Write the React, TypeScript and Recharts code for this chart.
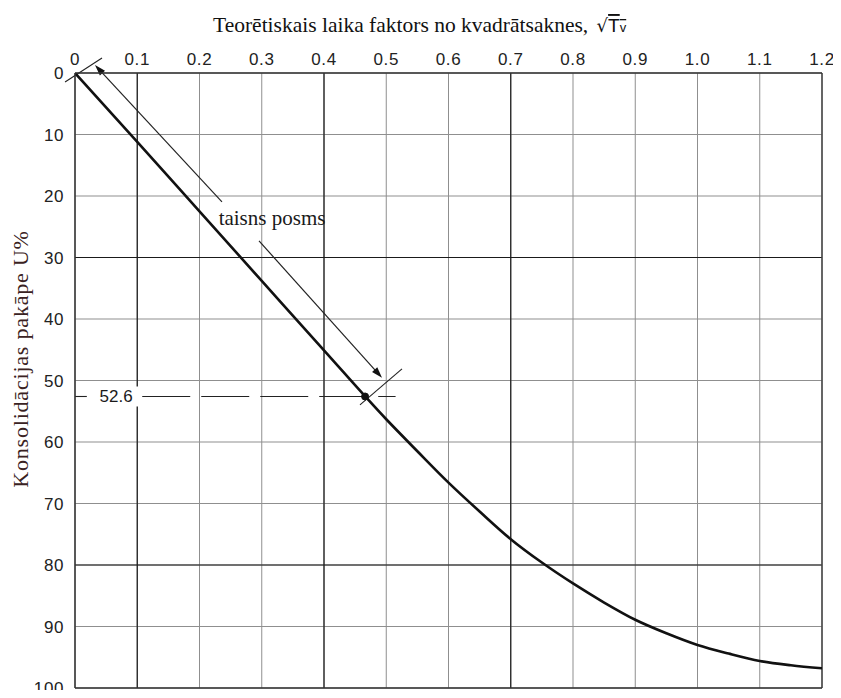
import React from "react";
import {
  ComposedChart,
  Line,
  XAxis,
  YAxis,
  CartesianGrid,
  ReferenceLine,
  ReferenceDot,
} from "recharts";

// ---- data ----
const sqrtTv = [0, 0.1, 0.2, 0.3, 0.4, 0.5, 0.55, 0.6, 0.65, 0.7, 0.75, 0.8, 0.85, 0.9, 0.95, 1.0, 1.05, 1.1, 1.15, 1.2];
const consolidationU = [0, 11.2, 22.5, 33.8, 45.1, 56.3, 61.5, 66.6, 71.3, 75.8, 79.6, 83.0, 86.1, 88.9, 91.1, 93.0, 94.4, 95.6, 96.3, 96.8];
const xTicks = [0, 0.1, 0.2, 0.3, 0.4, 0.5, 0.6, 0.7, 0.8, 0.9, 1.0, 1.1, 1.2];
const yTicks = [0, 10, 20, 30, 40, 50, 60, 70, 80, 90, 100];
const darkX = [0.1, 0.4, 0.7];
const darkY = [30, 80];
const markerX = 0.466;
const markerU = 52.6;
const markerLabel = "52.6";
const straightLabel = "taisns posms";
const titleText = "Teorētiskais laika faktors no kvadrātsaknes, ";
const yLabelText = "Konsolidācijas pakāpe U%";

// annotation geometry (data coordinates)
const startTick = [{ x: -0.016, y: 1.46 }, { x: 0.0434, y: -2.44 }];
const endTick = [{ x: 0.4578, y: 53.96 }, { x: 0.5253, y: 48.11 }];
const arrowUp = [{ x: 0.2361, y: 20.97 }, { x: 0.0321, y: -1.3 }];
const arrowDown = [{ x: 0.2956, y: 27.3 }, { x: 0.4932, y: 49.57 }];
const dashShort = [{ x: 0, y: markerU }, { x: 0.019, y: markerU }];
const dashLong = [{ x: 0.108, y: markerU }, { x: 0.515, y: markerU }];
const labelPos = { x: 0.066, y: markerU };
const straightLabelPos = { x: 0.3165, y: 23.6 };

const curveData = sqrtTv.map((x, i) => ({ x, u: consolidationU[i] }));

const SANS = "'Liberation Sans', Arial, sans-serif";
const SERIF = "'Liberation Serif', 'Times New Roman', serif";

const ArrowShape = (p: any) => {
  const { x1, y1, x2, y2 } = p;
  const dx = x2 - x1;
  const dy = y2 - y1;
  const len = Math.sqrt(dx * dx + dy * dy) || 1;
  const ux = dx / len;
  const uy = dy / len;
  const L = 11;
  const W = 3.5;
  const bx = x2 - ux * L;
  const by = y2 - uy * L;
  const pts = `${x2},${y2} ${bx - uy * W},${by + ux * W} ${bx + uy * W},${by - ux * W}`;
  return (
    <g>
      <line x1={x1} y1={y1} x2={bx + ux * 2} y2={by + uy * 2} stroke="#222" strokeWidth={1.2} />
      <polygon points={pts} fill="#111" />
    </g>
  );
};

const TextLabel = (text: string, fontFamily: string, fontSize: number, bg: boolean) => (p: any) => {
  const vb = p.viewBox || {};
  const cx = vb.x + (vb.width || 0) / 2;
  const cy = vb.y + (vb.height || 0) / 2;
  return (
    <g>
      {bg ? <rect x={cx - 22} y={cy - 10} width={44} height={20} fill="#fff" /> : null}
      <text x={cx} y={cy} textAnchor="middle" dominantBaseline="central" fontFamily={fontFamily} fontSize={fontSize} fill="#1a1a1a">
        {text}
      </text>
    </g>
  );
};

export default function App() {
  const W = 833;
  const H = 690;
  return (
    <div style={{ position: "relative", width: 825, height: 682 }}>
      <ComposedChart
        width={W}
        height={H}
        data={curveData}
        margin={{ top: 25, right: 19, bottom: 10, left: 7 }}
      >
        <CartesianGrid stroke="#8f8f8f" strokeWidth={1} />
        <XAxis
          dataKey="x"
          type="number"
          orientation="top"
          domain={[0, 1.2]}
          ticks={xTicks}
          interval={0}
          height={40}
          tickSize={0}
          tickMargin={8}
          tickLine={false}
          axisLine={{ stroke: "#333", strokeWidth: 1.5 }}
          tickFormatter={(v: number) => (v === 0 ? "0" : v.toFixed(1))}
          tick={{ fontFamily: SANS, fontSize: 17, fill: "#222", letterSpacing: 0.6 }}
          allowDataOverflow
        />
        <YAxis
          type="number"
          reversed
          domain={[0, 100]}
          ticks={yTicks}
          interval={0}
          width={60}
          tickSize={0}
          tickMargin={11}
          tickLine={false}
          axisLine={{ stroke: "#333", strokeWidth: 1.5 }}
          tick={{ fontFamily: SANS, fontSize: 17, fill: "#222", letterSpacing: 0.6 }}
          allowDataOverflow
        />
        {darkX.map((v) => (
          <ReferenceLine key={"dx" + v} x={v} stroke="#1a1a1a" strokeWidth={1.2} />
        ))}
        {darkY.map((v) => (
          <ReferenceLine key={"dy" + v} y={v} stroke="#1a1a1a" strokeWidth={1.2} />
        ))}
        <ReferenceLine x={1.2} stroke="#444" strokeWidth={1.5} />
        <ReferenceLine y={100} stroke="#333" strokeWidth={1.5} />

        <ReferenceLine segment={dashShort} stroke="#222" strokeWidth={1.1} ifOverflow="visible" />
        <ReferenceLine segment={dashLong} stroke="#222" strokeWidth={1.1} strokeDasharray="48 11" ifOverflow="visible" />
        <ReferenceDot x={labelPos.x} y={labelPos.y} r={0} fill="none" stroke="none" ifOverflow="visible"
          label={TextLabel(markerLabel, SANS, 17, true)} />

        <ReferenceLine segment={startTick} stroke="#222" strokeWidth={1.1} ifOverflow="visible" />
        <ReferenceLine segment={endTick} stroke="#222" strokeWidth={1.1} ifOverflow="visible" />
        <ReferenceLine segment={arrowUp} ifOverflow="visible" shape={ArrowShape} />
        <ReferenceLine segment={arrowDown} ifOverflow="visible" shape={ArrowShape} />
        <ReferenceDot x={straightLabelPos.x} y={straightLabelPos.y} r={0} fill="none" stroke="none" ifOverflow="visible"
          label={TextLabel(straightLabel, SERIF, 21, false)} />

        <Line
          type="monotone"
          dataKey="u"
          stroke="#111"
          strokeWidth={2.6}
          dot={false}
          activeDot={false}
          isAnimationActive={false}
        />
        <ReferenceDot x={markerX} y={markerU} r={3.5} fill="#111" stroke="#111" ifOverflow="visible" />
      </ComposedChart>
      <svg
        width={W}
        height={H}
        style={{ position: "absolute", left: 0, top: 0, pointerEvents: "none" }}
      >
        <text x={205} y={24} fontFamily={SERIF} fontSize={21.5} fill="#111">
          {titleText}
          <tspan fontFamily="'DejaVu Sans', sans-serif" fontSize={18} dx={3}>√</tspan>
          <tspan fontFamily={SANS} fontSize={19} textDecoration="overline">T</tspan>
          <tspan fontFamily={SANS} fontSize={13} textDecoration="overline">v  </tspan>
        </text>
        <text
          x={20}
          y={351}
          transform="rotate(-90, 20, 351)"
          textAnchor="middle"
          fontFamily={SERIF}
          fontSize={22}
          letterSpacing={0.8}
          fill="#3a2222"
        >
          {yLabelText}
        </text>
      </svg>
    </div>
  );
}
